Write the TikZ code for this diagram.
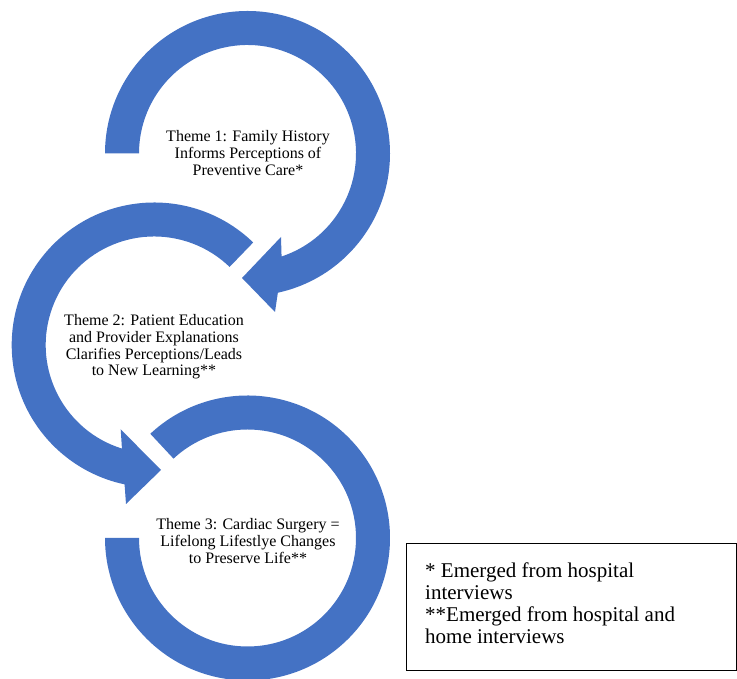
\documentclass[tikz,border=0pt]{standalone}
\usepackage{fontspec}
\setmainfont{Liberation Serif}
\definecolor{arrowblue}{HTML}{4472C4}
\begin{document}
\begin{tikzpicture}[x=1pt,y=1pt,
  cyc/.style={fill=arrowblue, draw=none},
  theme/.style={align=center, font=\fontsize{16}{16.7}\selectfont, inner sep=0pt},
  legendline/.style={anchor=base west, font=\fontsize{21}{21.7}\selectfont, inner sep=0pt},
  legendbox/.style={draw=black, line width=1pt, anchor=south west, inner sep=0pt}]
\useasboundingbox (0,0) rectangle (737,679);
\def\rOut{142.5}\def\rIn{108.5}
% circle 1
\begin{scope}[shift={(247.5,525.5)}]
  \fill[cyc] (180:\rOut) arc[start angle=180, end angle=-77.7, radius=\rOut]
    -- (27.5,-158.5) -- (-5.5,-124.5) -- (33.5,-83.5) -- (-71.7:\rIn)
    arc[start angle=-71.7, end angle=180, radius=\rIn] -- cycle;
\end{scope}
% circle 2
\begin{scope}[shift={(154.2,334)}]
  \fill[cyc] (46:\rOut) arc[start angle=46, end angle=258, radius=\rOut]
    -- (-28.2,-159) -- (6.8,-125) -- (-33.5,-84.3) -- (252.7:\rIn)
    arc[start angle=252.7, end angle=46, radius=\rIn] -- cycle;
\end{scope}
% circle 3
\begin{scope}[shift={(247.5,141)}]
  \fill[cyc] (133:\rOut) arc[start angle=133, end angle=-180, radius=\rOut]
    -- (-180:\rIn)
    arc[start angle=-180, end angle=133, radius=\rIn] -- cycle;
\end{scope}
\node[theme] (t1) at (248,526) {Theme 1: Family History\\Informs Perceptions of\\Preventive Care*};
\node[theme] (t2) at (154,332) {Theme 2: Patient Education\\and Provider Explanations\\Clarifies Perceptions/Leads\\to New Learning**};
\node[theme] (t3) at (248,138) {Theme 3: Cardiac Surgery =\\Lifelong Lifestlye Changes\\to Preserve Life**};
\node[legendbox, minimum width=330, minimum height=127] (legend) at (405.5,7.5) {};
\node[legendline] (l1) at (425,101) {* Emerged from hospital};
\node[legendline] (l2) at (425,79.3) {interviews};
\node[legendline] (l3) at (425,57.6) {**Emerged from hospital and};
\node[legendline] (l4) at (425,35.9) {home interviews};
\end{tikzpicture}
\end{document}
